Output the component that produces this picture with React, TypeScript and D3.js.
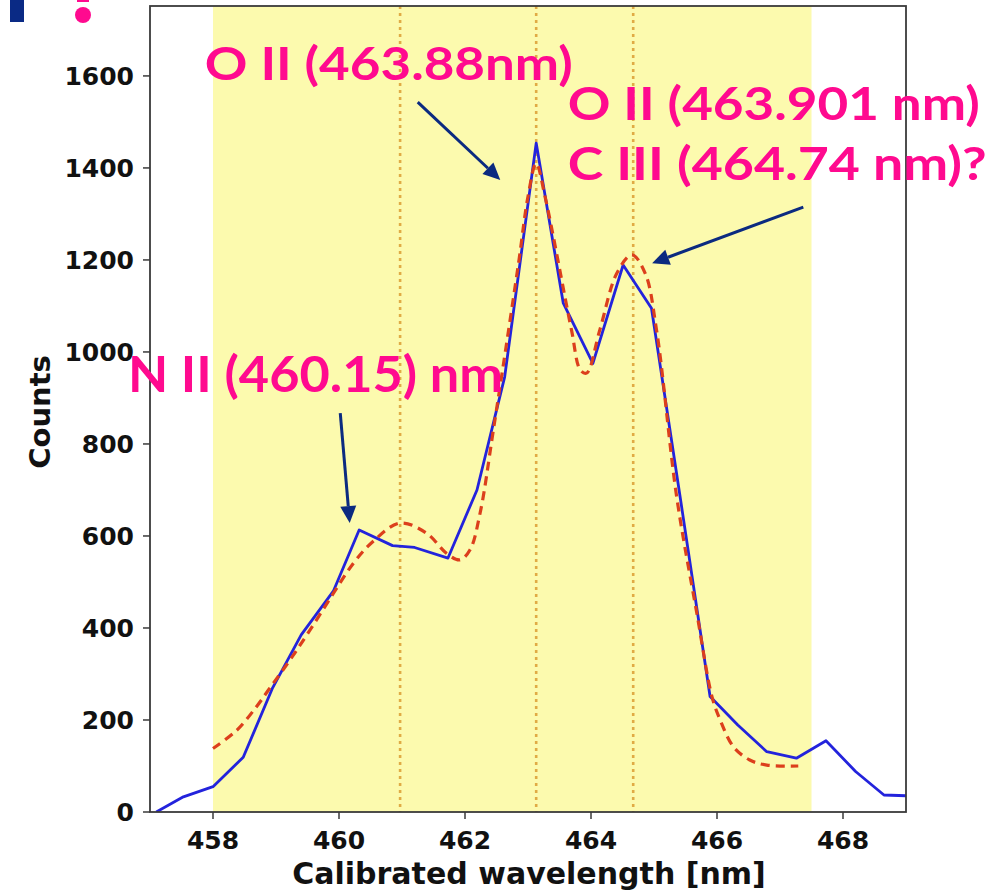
import React from "react";
import * as d3 from "d3";

// Measured spectrum (blue)
const wavelengths = [457.10, 457.53, 458.00, 458.48, 458.94, 459.40, 459.91, 460.32, 460.85, 461.20, 461.73, 462.19, 462.63, 463.13, 463.56, 464.03, 464.51, 464.96, 465.43, 465.89, 466.33, 466.79, 467.26, 467.73, 468.20, 468.65, 469.06];
const counts = [0, 33, 55, 119, 268, 385, 480, 613, 579, 575, 552, 700, 946, 1454, 1106, 975, 1189, 1095, 671, 251, 189, 131, 117, 155, 88, 37, 35];

// Fit (red dashed)
const fitWavelengths = [458.0, 458.38, 458.69, 458.9, 459.22, 459.49, 459.91, 460.23, 460.54, 460.97, 461.39, 461.71, 461.92, 462.08, 462.24, 462.45, 462.85, 463.0, 463.13, 463.27, 463.69, 463.83, 463.93, 464.14, 464.41, 464.65, 464.86, 465.04, 465.36, 465.68, 465.92, 466.05, 466.26, 466.52, 466.79, 467.29];
const fitCounts = [138, 178, 229, 269, 330, 385, 475, 541, 588, 628, 606, 562, 548, 570, 650, 830, 1193, 1338, 1410, 1338, 1048, 961, 954, 1048, 1171, 1211, 1171, 1048, 685, 432, 251, 200, 142, 113, 102, 100];

const xTicks = [458, 460, 462, 464, 466, 468];
const yTicks = [0, 200, 400, 600, 800, 1000, 1200, 1400, 1600];
const bandRange = [458.0, 467.5];
const lineMarkers = [460.97, 463.13, 464.67];

const labels = ["O II (463.88nm)", "O II (463.901 nm)", "C III (464.74 nm)?", "N II (460.15) nm"];
const labelX = [457.87, 463.63, 463.63, 456.65];
const labelY = [1591, 1504, 1374, 913];
const labelWidth = [368, 412, 419, 375];
const labelSize = [46, 46, 46, 50];

const arrowFromX = [461.25, 467.37, 460.02];
const arrowFromY = [1543, 1315, 867];
const arrowToX = [462.56, 464.97, 460.17];
const arrowToY = [1374, 1193, 628];

const W = 1007, H = 895;
const left = 150, right = 906, top = 6, bottom = 812;

export default function App() {
  const x = d3.scaleLinear().domain([457, 469]).range([left, right]);
  const y = d3.scaleLinear().domain([0, 1752]).range([bottom, top]);

  const blue = d3.line<number>().x((_, i) => x(wavelengths[i])).y((d) => y(d))(counts) || "";
  const red = d3.line<number>().x((_, i) => x(fitWavelengths[i])).y((d) => y(d)).curve(d3.curveCatmullRom.alpha(0.5))(fitCounts) || "";

  const pink = "#ff0a8f";
  const navy = "#0b2a80";
  const axisFont = "'DejaVu Sans', sans-serif";
  const annFont = "Lato, 'Open Sans', sans-serif";

  const arrows = arrowFromX.map((fx, i) => {
    const x1 = x(fx), y1 = y(arrowFromY[i]);
    const x2 = x(arrowToX[i]), y2 = y(arrowToY[i]);
    const ang = Math.atan2(y2 - y1, x2 - x1);
    const hl = 17, hw = 8;
    const bx = x2 - hl * Math.cos(ang), by = y2 - hl * Math.sin(ang);
    const px = -Math.sin(ang) * hw, py = Math.cos(ang) * hw;
    return { x1, y1, bx, by, pts: `${x2},${y2} ${bx + px},${by + py} ${bx - px},${by - py}` };
  });

  return (
    <svg width={W} height={H} style={{ position: "absolute", left: 0, top: 0, background: "#fff" }}>
      <defs>
        <clipPath id="plotClip">
          <rect x={left} y={top} width={right - left} height={bottom - top} />
        </clipPath>
      </defs>
      {/* slide artifacts */}
      <rect x={10} y={0} width={14} height={22} fill="#0a2a85" />
      <rect x={77} y={0} width={12} height={2} fill={pink} />
      <circle cx={83} cy={15} r={8} fill={pink} />

      {/* band */}
      <rect x={x(bandRange[0])} y={top} width={x(bandRange[1]) - x(bandRange[0])} height={bottom - top} fill="#fcfaae" />
      {lineMarkers.map((m, i) => (
        <line key={i} x1={x(m)} x2={x(m)} y1={top} y2={bottom} stroke="#e0ab45" strokeWidth={2.6} strokeDasharray="3,4" />
      ))}

      <g clipPath="url(#plotClip)">
        <path d={blue} fill="none" stroke="#2323dc" strokeWidth={2.8} strokeLinejoin="round" />
        <path d={red} fill="none" stroke="#dc3f1c" strokeWidth={3.2} strokeDasharray="9,6" />
      </g>

      {/* frame */}
      <rect x={left} y={top} width={right - left} height={bottom - top} fill="none" stroke="#3a3a3a" strokeWidth={1.8} />

      {/* axes */}
      {xTicks.map((t) => (
        <g key={t}>
          <line x1={x(t)} x2={x(t)} y1={bottom} y2={bottom + 7} stroke="#3a3a3a" strokeWidth={1.5} />
          <text x={x(t)} y={bottom + 37} textAnchor="middle" fontFamily={axisFont} fontWeight="bold" fontSize={25} fill="#111">{t}</text>
        </g>
      ))}
      {yTicks.map((t) => (
        <g key={t}>
          <line x1={left - 7} x2={left} y1={y(t)} y2={y(t)} stroke="#3a3a3a" strokeWidth={1.5} />
          <text x={left - 16} y={y(t)} dy="0.36em" textAnchor="end" fontFamily={axisFont} fontWeight="bold" fontSize={25} fill="#111">{t}</text>
        </g>
      ))}
      <text x={(left + right) / 2 + 1} y={884} textAnchor="middle" fontFamily={axisFont} fontWeight="bold" fontSize={30} fill="#111">Calibrated wavelength [nm]</text>
      <text transform={`translate(50,${(top + bottom) / 2 + 3}) rotate(-90)`} textAnchor="middle" fontFamily={axisFont} fontWeight="bold" fontSize={29} fill="#111">Counts</text>

      {/* annotations */}
      {labels.map((s, i) => (
        <text key={i} x={x(labelX[i])} y={y(labelY[i])} fontFamily={annFont} fontWeight="bold" fontSize={labelSize[i]} fill={pink}
          textLength={labelWidth[i]} lengthAdjust="spacingAndGlyphs">{s}</text>
      ))}
      {arrows.map((a, i) => (
        <g key={i}>
          <line x1={a.x1} y1={a.y1} x2={a.bx} y2={a.by} stroke={navy} strokeWidth={3} />
          <polygon points={a.pts} fill={navy} />
        </g>
      ))}
    </svg>
  );
}
